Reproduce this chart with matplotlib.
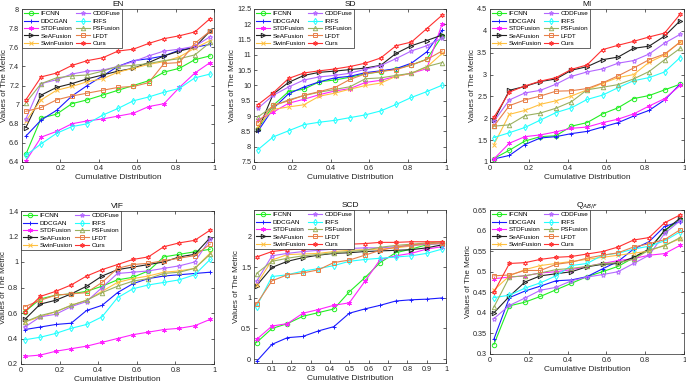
import numpy as np
import matplotlib
matplotlib.use("Agg")
import matplotlib.pyplot as plt
from matplotlib.ticker import FuncFormatter

plt.rcParams['font.family'] = ['Liberation Sans', 'DejaVu Sans']

x = [0.02, 0.10, 0.18, 0.26, 0.34, 0.42, 0.50, 0.58, 0.66, 0.74, 0.82, 0.90, 0.98]
methods = ["IFCNN", "DDCGAN", "STDFusion", "SeAFusion", "SwinFusion",
           "CDDFuse", "IRFS", "PSFusion", "LFDT", "Ours"]

en_ifcnn = [6.48, 6.86, 6.90, 7.01, 7.05, 7.10, 7.15, 7.20, 7.25, 7.34, 7.38, 7.47, 7.51]
en_ddcgan = [6.67, 6.84, 6.94, 7.09, 7.20, 7.30, 7.40, 7.46, 7.48, 7.51, 7.57, 7.60, 7.63]
en_stdfusion = [6.41, 6.66, 6.72, 6.80, 6.83, 6.85, 6.88, 6.91, 6.98, 7.01, 7.18, 7.33, 7.44]
en_seafusion = [6.76, 7.10, 7.18, 7.22, 7.27, 7.31, 7.35, 7.38, 7.44, 7.51, 7.56, 7.60, 7.77]
en_swinfusion = [6.83, 7.05, 7.15, 7.19, 7.24, 7.27, 7.34, 7.38, 7.42, 7.45, 7.50, 7.59, 7.67]
en_cddfuse = [6.85, 7.22, 7.26, 7.32, 7.35, 7.36, 7.40, 7.45, 7.51, 7.56, 7.58, 7.61, 7.71]
en_irfs = [6.47, 6.59, 6.70, 6.77, 6.80, 6.89, 6.96, 7.04, 7.08, 7.13, 7.17, 7.28, 7.32]
en_psfusion = [7.02, 7.22, 7.28, 7.30, 7.31, 7.35, 7.40, 7.41, 7.43, 7.46, 7.48, 7.52, 7.65]
en_lfdt = [6.93, 6.97, 7.05, 7.09, 7.12, 7.15, 7.18, 7.19, 7.23, 7.43, 7.44, 7.64, 7.77]
en_ours = [7.05, 7.29, 7.33, 7.41, 7.46, 7.49, 7.56, 7.58, 7.64, 7.69, 7.72, 7.76, 7.90]

sd_ifcnn = [8.58, 9.35, 9.80, 9.88, 10.12, 10.18, 10.27, 10.38, 10.45, 10.55, 10.67, 10.86, 11.62]
sd_ddcgan = [8.50, 9.25, 9.73, 9.95, 10.12, 10.25, 10.30, 10.42, 10.48, 10.55, 10.73, 11.10, 11.80]
sd_stdfusion = [8.87, 9.13, 9.42, 9.55, 9.70, 9.82, 9.90, 10.10, 10.17, 10.30, 10.40, 10.55, 12.02]
sd_seafusion = [8.53, 9.72, 10.10, 10.33, 10.43, 10.47, 10.52, 10.57, 10.66, 11.05, 11.30, 11.47, 11.65]
sd_swinfusion = [8.68, 9.22, 9.30, 9.37, 9.65, 9.75, 9.88, 10.00, 10.08, 10.30, 10.40, 10.60, 11.05]
sd_cddfuse = [9.25, 9.68, 9.95, 10.18, 10.28, 10.33, 10.40, 10.53, 10.65, 10.88, 11.13, 11.30, 11.55]
sd_irfs = [7.90, 8.32, 8.52, 8.72, 8.80, 8.86, 8.95, 9.04, 9.17, 9.38, 9.61, 9.80, 10.01]
sd_psfusion = [8.97, 9.33, 9.53, 9.67, 9.78, 9.87, 9.96, 10.22, 10.25, 10.33, 10.40, 10.62, 10.75]
sd_lfdt = [8.78, 9.35, 9.50, 9.68, 9.80, 9.93, 10.20, 10.38, 10.46, 10.52, 10.67, 10.85, 11.13]
sd_ours = [9.37, 9.76, 10.23, 10.41, 10.48, 10.54, 10.62, 10.73, 10.90, 11.30, 11.42, 11.86, 12.30]

mi_ifcnn = [1.08, 1.27, 1.48, 1.58, 1.60, 1.82, 1.90, 2.10, 2.24, 2.45, 2.52, 2.65, 2.78]
mi_ddcgan = [1.07, 1.15, 1.40, 1.55, 1.58, 1.65, 1.70, 1.80, 1.90, 2.05, 2.18, 2.42, 2.78]
mi_stdfusion = [1.07, 1.43, 1.58, 1.62, 1.69, 1.77, 1.80, 1.90, 1.98, 2.10, 2.28, 2.45, 2.75]
mi_seafusion = [1.95, 2.64, 2.73, 2.84, 2.90, 3.10, 3.18, 3.34, 3.40, 3.60, 3.65, 3.88, 4.23]
mi_swinfusion = [1.40, 2.09, 2.18, 2.32, 2.40, 2.51, 2.65, 2.80, 2.93, 3.00, 3.28, 3.45, 3.75]
mi_cddfuse = [1.93, 2.42, 2.58, 2.64, 2.78, 2.96, 3.06, 3.13, 3.26, 3.32, 3.47, 3.72, 3.92]
mi_irfs = [1.56, 1.67, 1.79, 1.96, 2.13, 2.24, 2.43, 2.53, 2.70, 2.86, 2.93, 3.06, 3.39]
mi_psfusion = [1.82, 1.85, 2.06, 2.12, 2.23, 2.38, 2.65, 2.71, 2.77, 2.90, 3.07, 3.34, 3.60]
mi_lfdt = [1.82, 2.29, 2.42, 2.51, 2.62, 2.63, 2.68, 2.81, 2.97, 3.15, 3.34, 3.47, 3.74]
mi_ours = [2.02, 2.60, 2.74, 2.85, 2.93, 3.12, 3.22, 3.57, 3.67, 3.76, 3.86, 3.95, 4.38]

vif_ifcnn = [0.61, 0.71, 0.74, 0.75, 0.77, 0.81, 0.86, 0.88, 0.93, 1.04, 1.06, 1.08, 1.10]
vif_ddcgan = [0.47, 0.49, 0.51, 0.52, 0.62, 0.66, 0.76, 0.83, 0.87, 0.89, 0.90, 0.91, 0.92]
vif_stdfusion = [0.26, 0.27, 0.30, 0.32, 0.34, 0.37, 0.40, 0.43, 0.45, 0.47, 0.48, 0.50, 0.55]
vif_seafusion = [0.55, 0.67, 0.70, 0.75, 0.81, 0.89, 0.94, 0.96, 0.98, 1.00, 1.04, 1.06, 1.19]
vif_swinfusion = [0.53, 0.57, 0.61, 0.66, 0.70, 0.77, 0.84, 0.87, 0.89, 0.92, 0.93, 0.95, 1.07]
vif_cddfuse = [0.49, 0.57, 0.59, 0.65, 0.69, 0.80, 0.91, 0.92, 0.93, 0.95, 0.97, 1.00, 1.18]
vif_irfs = [0.39, 0.41, 0.44, 0.48, 0.51, 0.57, 0.72, 0.79, 0.82, 0.84, 0.86, 0.90, 1.02]
vif_psfusion = [0.53, 0.58, 0.61, 0.66, 0.70, 0.76, 0.81, 0.85, 0.87, 0.91, 0.92, 0.95, 1.06]
vif_lfdt = [0.65, 0.70, 0.74, 0.75, 0.76, 0.84, 0.95, 0.98, 0.99, 1.01, 1.03, 1.05, 1.14]
vif_ours = [0.61, 0.73, 0.77, 0.82, 0.89, 0.94, 0.98, 1.02, 1.04, 1.12, 1.15, 1.17, 1.25]

scd_ifcnn = [0.27, 0.50, 0.58, 0.70, 0.76, 0.82, 1.10, 1.33, 1.58, 1.74, 1.80, 1.87, 1.90]
scd_ddcgan = [-0.04, 0.24, 0.35, 0.37, 0.46, 0.53, 0.75, 0.82, 0.88, 0.95, 0.97, 0.98, 1.00]
scd_stdfusion = [0.32, 0.54, 0.58, 0.75, 0.81, 0.88, 0.92, 1.27, 1.63, 1.69, 1.73, 1.80, 1.84]
scd_seafusion = [1.20, 1.50, 1.60, 1.66, 1.70, 1.73, 1.74, 1.76, 1.77, 1.78, 1.79, 1.82, 1.87]
scd_swinfusion = [1.22, 1.62, 1.71, 1.72, 1.73, 1.76, 1.78, 1.79, 1.80, 1.82, 1.85, 1.88, 1.89]
scd_cddfuse = [1.27, 1.69, 1.73, 1.76, 1.78, 1.80, 1.81, 1.82, 1.82, 1.84, 1.86, 1.88, 1.89]
scd_irfs = [0.86, 1.35, 1.38, 1.44, 1.48, 1.53, 1.60, 1.63, 1.65, 1.67, 1.69, 1.73, 1.80]
scd_psfusion = [1.40, 1.60, 1.65, 1.69, 1.71, 1.74, 1.76, 1.78, 1.83, 1.86, 1.88, 1.90, 1.92]
scd_lfdt = [0.90, 1.28, 1.38, 1.41, 1.46, 1.58, 1.62, 1.70, 1.78, 1.83, 1.87, 1.89, 1.90]
scd_ours = [1.67, 1.76, 1.79, 1.80, 1.82, 1.85, 1.88, 1.89, 1.91, 1.91, 1.92, 1.92, 1.92]

q_ifcnn = [0.323, 0.417, 0.426, 0.440, 0.456, 0.472, 0.488, 0.500, 0.513, 0.534, 0.553, 0.600, 0.625]
q_ddcgan = [0.336, 0.437, 0.453, 0.465, 0.478, 0.480, 0.488, 0.507, 0.525, 0.555, 0.573, 0.610, 0.622]
q_stdfusion = [0.483, 0.487, 0.490, 0.497, 0.500, 0.505, 0.513, 0.520, 0.527, 0.532, 0.540, 0.544, 0.564]
q_seafusion = [0.400, 0.440, 0.475, 0.490, 0.495, 0.500, 0.512, 0.518, 0.520, 0.535, 0.555, 0.600, 0.630]
q_swinfusion = [0.455, 0.490, 0.505, 0.515, 0.520, 0.525, 0.530, 0.535, 0.540, 0.545, 0.550, 0.565, 0.580]
q_cddfuse = [0.386, 0.418, 0.436, 0.455, 0.462, 0.478, 0.487, 0.493, 0.500, 0.520, 0.540, 0.593, 0.624]
q_irfs = [0.437, 0.443, 0.460, 0.473, 0.490, 0.515, 0.520, 0.540, 0.545, 0.555, 0.562, 0.575, 0.597]
q_psfusion = [0.414, 0.487, 0.490, 0.497, 0.505, 0.508, 0.513, 0.520, 0.522, 0.530, 0.553, 0.563, 0.583]
q_lfdt = [0.490, 0.492, 0.503, 0.503, 0.518, 0.523, 0.533, 0.540, 0.546, 0.560, 0.568, 0.578, 0.602]
q_ours = [0.450, 0.520, 0.522, 0.530, 0.535, 0.537, 0.543, 0.549, 0.560, 0.577, 0.583, 0.619, 0.638]

panels = [
    ("EN", [en_ifcnn, en_ddcgan, en_stdfusion, en_seafusion, en_swinfusion,
            en_cddfuse, en_irfs, en_psfusion, en_lfdt, en_ours]),
    ("SD", [sd_ifcnn, sd_ddcgan, sd_stdfusion, sd_seafusion, sd_swinfusion,
            sd_cddfuse, sd_irfs, sd_psfusion, sd_lfdt, sd_ours]),
    ("MI", [mi_ifcnn, mi_ddcgan, mi_stdfusion, mi_seafusion, mi_swinfusion,
            mi_cddfuse, mi_irfs, mi_psfusion, mi_lfdt, mi_ours]),
    ("VIF", [vif_ifcnn, vif_ddcgan, vif_stdfusion, vif_seafusion, vif_swinfusion,
             vif_cddfuse, vif_irfs, vif_psfusion, vif_lfdt, vif_ours]),
    ("SCD", [scd_ifcnn, scd_ddcgan, scd_stdfusion, scd_seafusion, scd_swinfusion,
             scd_cddfuse, scd_irfs, scd_psfusion, scd_lfdt, scd_ours]),
    ("Q$_{AB/F}$", [q_ifcnn, q_ddcgan, q_stdfusion, q_seafusion, q_swinfusion,
                    q_cddfuse, q_irfs, q_psfusion, q_lfdt, q_ours]),
]

colors = ["#22ee22", "#1a1aff", "#ff22ff", "#222222", "#ffc040",
          "#b366ff", "#22ffff", "#99b060", "#e8804a", "#ff3030"]
markers = ["o", "+", (6, 2, 0), ">", "x", (5, 1, 0), "d", "^", "s", (6, 1, 0)]

ylims = [(6.4, 8.0), (7.5, 12.5), (1.0, 4.5), (0.2, 1.4), (-0.065, 2.44), (0.3, 0.65)]
ysteps = [0.2, 0.5, 0.5, 0.2, 0.5, 0.05]
xlims = [(0, 1)] * 4 + [(0.007, 1.0), (0, 1)]

W, H = 686, 382
boxes_px = [(22, 9, 214, 162), (254, 9, 446, 162), (490, 9, 684, 162),
            (21, 211, 214, 364), (254, 210, 446, 363), (490, 210, 684, 354)]

fig = plt.figure(figsize=(W / 100, H / 100), dpi=100)
fmt = FuncFormatter(lambda v, p: ("%g" % round(v, 4)))
fs = 5.2

for i, (title, series) in enumerate(panels):
    l, t, r, b = boxes_px[i]
    ax = fig.add_axes([l / W, 1 - b / H, (r - l) / W, (b - t) / H])
    for k, (name, ys) in enumerate(zip(methods, series)):
        ax.plot(x, ys, color=colors[k], lw=0.8, marker=markers[k], markersize=3.2,
                markerfacecolor="none", markeredgewidth=0.7, label=name)
    ax.set_xlim(*xlims[i])
    ax.set_ylim(*ylims[i])
    if i == 4:
        ax.set_xticks(np.arange(0.1, 1.01, 0.1))
        ax.set_yticks(np.arange(0, 2.01, 0.5))
    else:
        ax.set_xticks(np.arange(0, 1.01, 0.2))
        lo, hi = ylims[i]
        ax.set_yticks(np.arange(lo, hi + 1e-9, ysteps[i]))
    ax.xaxis.set_major_formatter(fmt)
    ax.yaxis.set_major_formatter(fmt)
    ax.tick_params(direction="in", length=2, width=0.5, labelsize=fs, pad=2,
                   top=True, right=True, colors="#262626")
    for s in ax.spines.values():
        s.set_linewidth(0.5)
        s.set_color("#262626")
    ax.set_title(title, fontsize=6, pad=2.5, color="#111111")
    ax.set_xlabel("Cumulative Distribution", fontsize=6, labelpad=1.5, color="#262626")
    ax.set_ylabel("Values of The Metric", fontsize=5.8, labelpad=1.0, color="#262626")
    leg = ax.legend(ncol=2, loc="upper left", borderaxespad=0, fontsize=4.6,
                    handlelength=2.2, handletextpad=0.4, columnspacing=0.4,
                    labelspacing=0.3, borderpad=0.3, frameon=True, fancybox=False,
                    framealpha=1)
    leg.get_frame().set_linewidth(0.5)
    leg.get_frame().set_edgecolor("#262626")

fig.savefig("out.png", dpi=100)
